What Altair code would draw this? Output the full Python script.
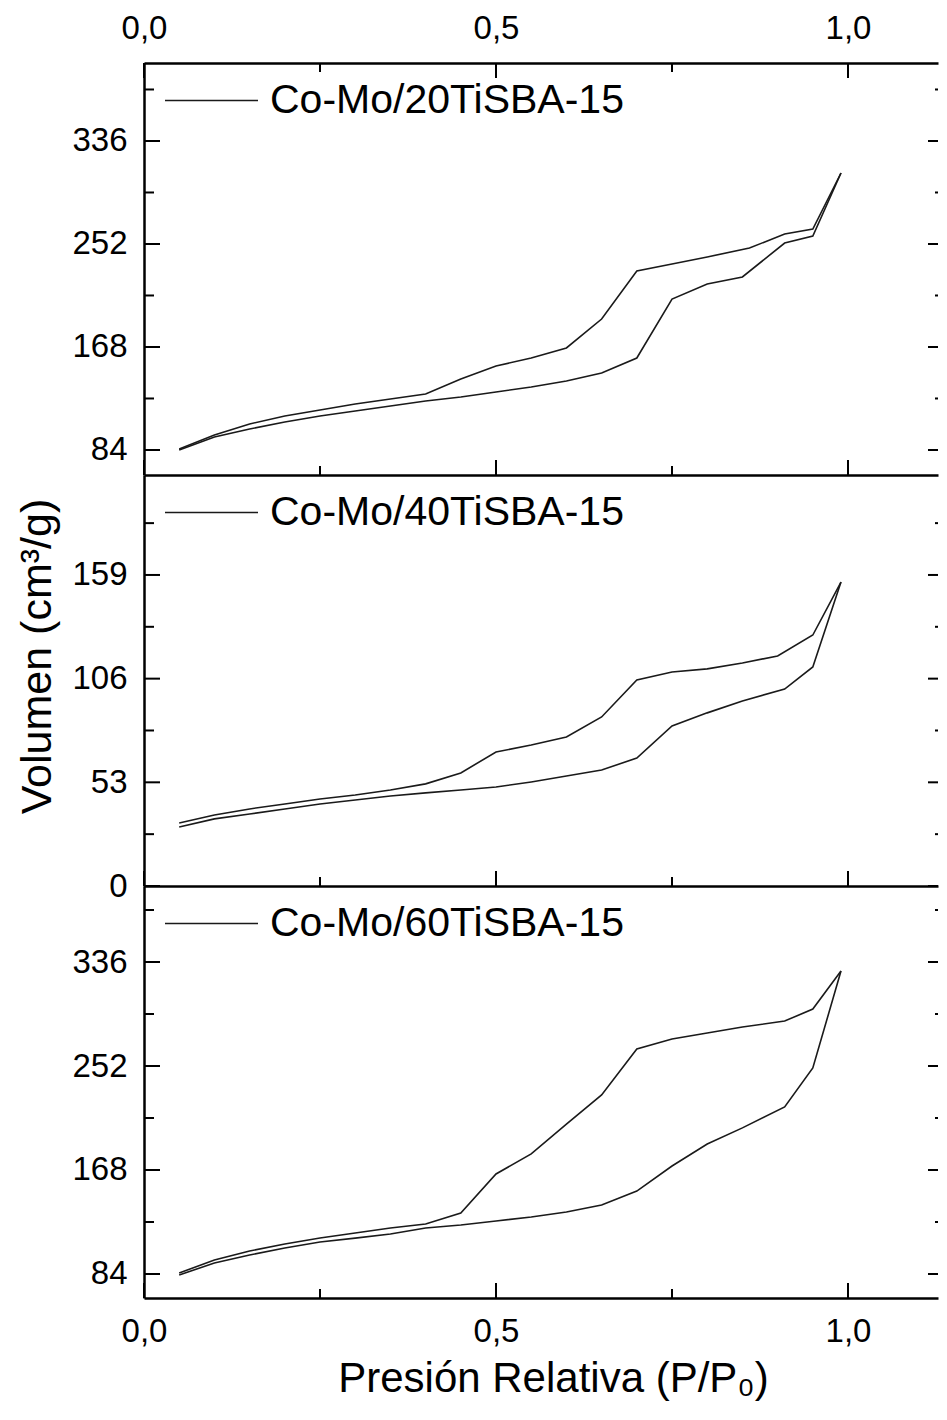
import altair as alt
import pandas as pd

# ---------------- data ----------------
muestras = ["Co-Mo/20TiSBA-15", "Co-Mo/40TiSBA-15", "Co-Mo/60TiSBA-15"]

p_ads = [0.05, 0.10, 0.15, 0.20, 0.25, 0.30, 0.35, 0.40, 0.45, 0.50,
         0.55, 0.60, 0.65, 0.70, 0.75, 0.80, 0.85, 0.91, 0.95, 0.99]

v_ads_1 = [84.0, 94.6, 101.1, 106.8, 111.7, 115.8, 119.9, 124.0, 127.2, 131.3,
           135.4, 140.3, 146.8, 159.0, 207.1, 219.4, 225.1, 252.8, 258.5, 309.9]
p_des_1 = [0.99, 0.95, 0.91, 0.86, 0.80, 0.75, 0.70, 0.65, 0.60, 0.55,
           0.50, 0.45, 0.40, 0.35, 0.30, 0.25, 0.20, 0.15, 0.10, 0.05]
v_des_1 = [309.9, 264.2, 260.1, 248.7, 241.4, 235.7, 230.0, 190.8, 167.2, 159.0,
           152.5, 141.9, 129.7, 125.6, 121.5, 116.6, 111.7, 105.2, 96.2, 84.8]

v_ads_2 = [30.2, 34.3, 36.8, 39.4, 41.9, 44.0, 46.0, 47.6, 49.1, 50.6,
           53.2, 56.2, 59.3, 65.4, 81.8, 88.5, 94.6, 100.7, 112.0, 155.4]
p_des_2 = [0.99, 0.95, 0.90, 0.85, 0.80, 0.75, 0.70, 0.65, 0.60, 0.55,
           0.50, 0.45, 0.40, 0.35, 0.30, 0.25, 0.20, 0.15, 0.10, 0.05]
v_des_2 = [155.4, 128.3, 117.6, 114.0, 111.0, 109.4, 105.3, 86.4, 76.2, 72.1,
           68.5, 57.8, 52.2, 49.1, 46.5, 44.5, 41.9, 39.4, 36.3, 32.2]

v_ads_3 = [83.2, 92.9, 99.3, 105.0, 109.8, 113.0, 116.3, 121.2, 123.6, 126.8,
           130.0, 134.0, 139.7, 151.0, 171.2, 189.0, 202.0, 218.9, 250.4, 328.7]
p_des_3 = [0.99, 0.95, 0.91, 0.85, 0.80, 0.75, 0.70, 0.65, 0.60, 0.55,
           0.50, 0.45, 0.40, 0.35, 0.30, 0.25, 0.20, 0.15, 0.10, 0.05]
v_des_3 = [328.7, 298.0, 288.3, 283.5, 278.7, 273.8, 265.7, 228.6, 205.0, 181.0,
           164.8, 133.3, 124.4, 121.2, 117.1, 113.0, 108.2, 102.6, 95.3, 84.8]

# ticks / domains
x_major = [0.0, 0.5, 1.0]
x_minor = [0.25, 0.75]
y_major_1 = [84, 168, 252, 336]
y_minor_1 = [126, 210, 294, 378]
y_major_2 = [0, 53, 106, 159]
y_minor_2 = [26.5, 79.5, 132.5, 185.5]
y_major_3 = [84, 168, 252, 336]
y_minor_3 = [126, 210, 294, 378]
y_dom_1 = [63.6, 399.6]
y_dom_2 = [0, 210.1]
y_dom_3 = [64.6, 397.4]
x_dom = [0, 1.1278]

W = 794
H = [412, 411, 412]
FONT = "Liberation Sans"
XLBL = "replace(format(datum.value, '.1f'), '.', ',')"


def frame(name, p_a, v_a, p_d, v_d):
    a = pd.DataFrame({"P": p_a, "V": v_a, "rama": "adsorcion", "muestra": name})
    d = pd.DataFrame({"P": p_d, "V": v_d, "rama": "desorcion", "muestra": name})
    return pd.concat([a, d], ignore_index=True)


def panel(k, df, ydom, ymaj, ymin, top, bottom_labels, ytitle):
    h = H[k]
    xs = alt.Scale(domain=x_dom, nice=False, zero=False)
    ys = alt.Scale(domain=ydom, nice=False, zero=False)
    if bottom_labels:
        baxis = alt.Axis(values=x_major, ticks=False, grid=False, domain=True,
                         labelExpr=XLBL, labelPadding=17, labelFontSize=33,
                         labelFlush=False,
                         title="Presión Relativa (P/P₀)", titleFontSize=42,
                         titleX=409, titleY=93, titleAlign="center",
                         titleBaseline="alphabetic")
    else:
        baxis = alt.Axis(values=x_major, ticks=False, grid=False, domain=True,
                         labels=False, title=None)
    if ytitle:
        laxis = alt.Axis(values=ymaj, ticks=False, grid=False, domain=True,
                         labelPadding=17, labelFontSize=33, title=ytitle,
                         titleFontSize=43, titleX=-94, titleY=181, titleAngle=270,
                         titleAlign="center", titleBaseline="alphabetic")
    else:
        laxis = alt.Axis(values=ymaj, ticks=False, grid=False, domain=True,
                         labelPadding=17, labelFontSize=33, title=None)

    lines = alt.Chart(df).mark_line(strokeWidth=1.6).encode(
        x=alt.X("P:Q", scale=xs, axis=baxis),
        y=alt.Y("V:Q", scale=ys, axis=laxis),
        detail="rama:N",
        color=alt.Color("muestra:N",
                        scale=alt.Scale(domain=[df["muestra"].iloc[0]], range=["#1a1a1a"]),
                        legend=alt.Legend(title=None, orient="none", legendX=20, legendY=-10,
                                          symbolType="stroke", symbolSize=8649,
                                          symbolStrokeWidth=1.5,
                                          labelFontSize=41, labelOffset=11,
                                          labelLimit=0,
                                          labelColor="black", labelFont=FONT,
                                          padding=0)),
    )

    ymj = pd.DataFrame({"v": ymaj})
    ymn = pd.DataFrame({"v": ymin})
    xmj = pd.DataFrame({"v": x_major})
    xmn = pd.DataFrame({"v": x_minor})
    tk = dict(color="black", strokeWidth=2)
    layers = [lines]
    # left ticks (inward)
    layers.append(alt.Chart(ymj).mark_rule(**tk).encode(
        y=alt.Y("v:Q", scale=ys, axis=None), x=alt.value(0), x2=alt.value(16)))
    layers.append(alt.Chart(ymn).mark_rule(**tk).encode(
        y=alt.Y("v:Q", scale=ys, axis=None), x=alt.value(0), x2=alt.value(10)))
    # right ticks (partly cut off at the image edge)
    layers.append(alt.Chart(ymj).mark_rule(**tk).encode(
        y=alt.Y("v:Q", scale=ys, axis=None), x=alt.value(W - 10), x2=alt.value(W)))
    layers.append(alt.Chart(ymn).mark_rule(**tk).encode(
        y=alt.Y("v:Q", scale=ys, axis=None), x=alt.value(W - 3), x2=alt.value(W)))
    # bottom ticks (pointing up)
    layers.append(alt.Chart(xmj).mark_rule(**tk).encode(
        x=alt.X("v:Q", scale=xs, axis=None), y=alt.value(h), y2=alt.value(h - 15)))
    layers.append(alt.Chart(xmn).mark_rule(**tk).encode(
        x=alt.X("v:Q", scale=xs, axis=None), y=alt.value(h), y2=alt.value(h - 9)))
    if top:
        taxis = alt.Axis(orient="top", values=x_major, ticks=False, grid=False,
                         domain=True, labelExpr=XLBL, labelPadding=25,
                         labelBaseline="alphabetic", labelFlush=False,
                         labelFontSize=33, title=None)
        layers.append(alt.Chart(xmj).mark_rule(**tk).encode(
            x=alt.X("v:Q", scale=xs, axis=taxis), y=alt.value(0), y2=alt.value(15)))
        layers.append(alt.Chart(xmn).mark_rule(**tk).encode(
            x=alt.X("v:Q", scale=xs, axis=None), y=alt.value(0), y2=alt.value(9)))
    ch = alt.layer(*layers).properties(width=W, height=h)
    ch = ch.resolve_axis(x="independent", y="independent")
    return ch


df1 = frame(muestras[0], p_ads, v_ads_1, p_des_1, v_des_1)
df2 = frame(muestras[1], p_ads, v_ads_2, p_des_2, v_des_2)
df3 = frame(muestras[2], p_ads, v_ads_3, p_des_3, v_des_3)

p1 = panel(0, df1, y_dom_1, y_major_1, y_minor_1, True, False, None)
p2 = panel(1, df2, y_dom_2, y_major_2, y_minor_2, False, False, "Volumen (cm³/g)")
p3 = panel(2, df3, y_dom_3, y_major_3, y_minor_3, False, True, None)

chart = alt.vconcat(p1, p2, p3, spacing=0, bounds="flush").resolve_scale(
    color="independent"
).resolve_legend(color="independent").configure(
    font=FONT,
    padding={"left": 8, "top": 4, "right": 0, "bottom": 5},
    background="white",
).configure_view(stroke=None).configure_axis(
    labelFont=FONT, titleFont=FONT, labelColor="black", titleColor="black",
    domainColor="black", domainWidth=2.5, titleFontWeight="normal",
)

chart.save("out.html", embed_options={"renderer": "svg", "actions": False})
